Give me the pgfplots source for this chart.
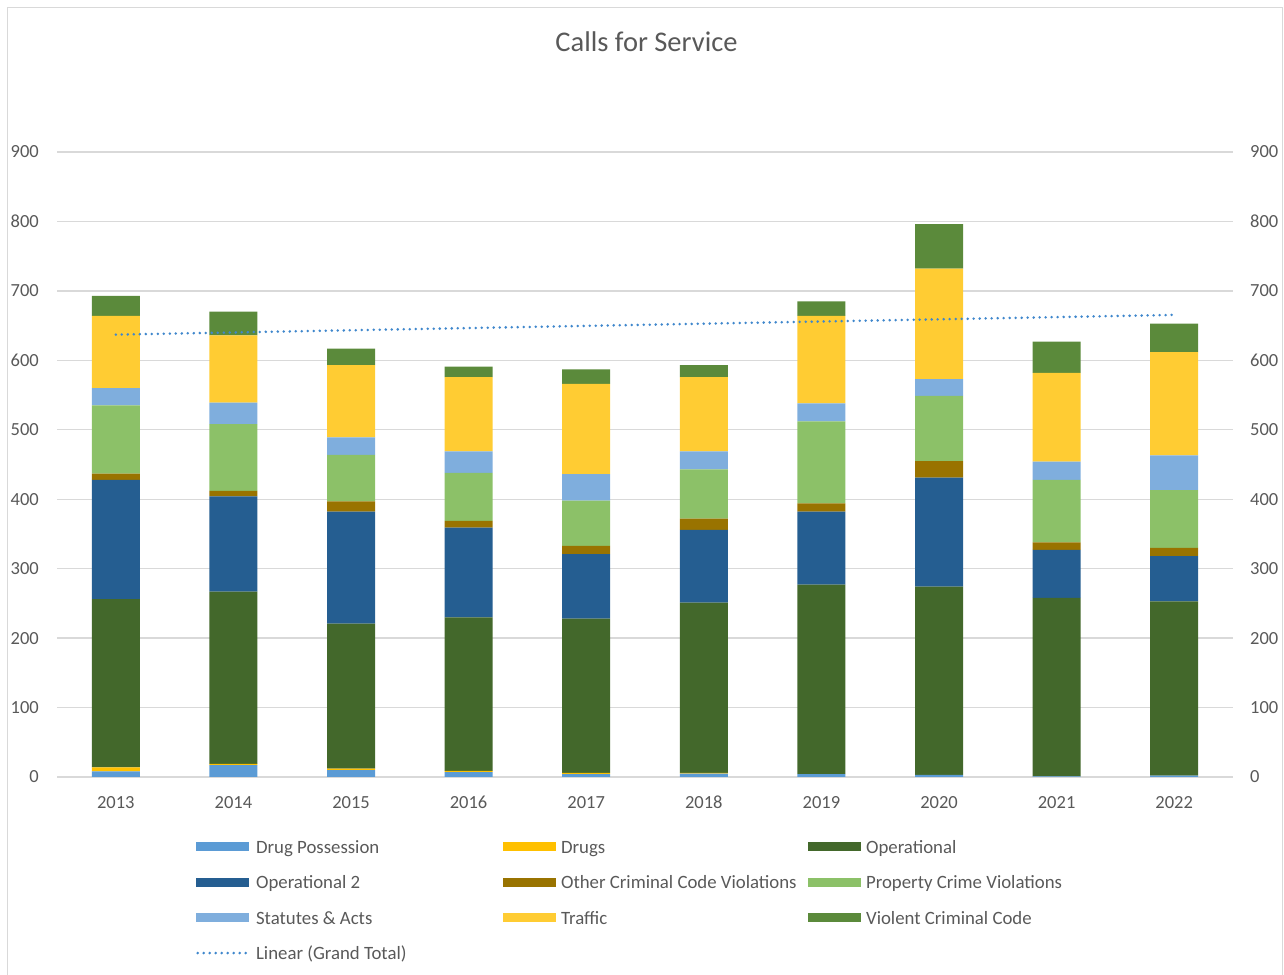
\documentclass[border=0pt]{standalone}
\usepackage{fontspec}
\setmainfont{Carlito}
\usepackage{pgfplots}
\pgfplotsset{compat=1.18}
\usepackage{pgfplotstable}

\definecolor{cdp}{HTML}{5B9BD5}
\definecolor{cdrg}{HTML}{FFC000}
\definecolor{cop}{HTML}{43682B}
\definecolor{cop2}{HTML}{255E91}
\definecolor{coth}{HTML}{997300}
\definecolor{cprop}{HTML}{8CC168}
\definecolor{cstat}{HTML}{7FAEDD}
\definecolor{ctraf}{HTML}{FFCC33}
\definecolor{cvio}{HTML}{5B8A3B}
\definecolor{ctxt}{HTML}{595959}
\definecolor{cgrid}{HTML}{D9D9D9}
\definecolor{ctrend}{HTML}{3F87CC}

\pgfplotstableread{
x DP Dr Op Op2 Oth Prop Stat Tr Vi
0 8 6 242 172 9 98 25 104 29
1 17 2 248 137 8 96 31 97 34
2 10 2 209 161 15 67 25 104 24
3 7 2 221 129 10 69 31 107 15
4 4 2 222 93 12 65 38 130 21
5 5 1 245 105 16 71 26 107 17
6 4 0 273 105 12 118 26 126 21
7 3 0 271 157 24 94 24 159 64
8 1 0 257 69 11 90 26 128 45
9 2 0 251 65 12 83 50 149 41
}\calls

\pgfplotsset{
  base/.style={scale only axis, width=1176bp, height=625bp,
    xmin=-0.5, xmax=9.5, ymin=0, ymax=900,
    at={(57bp,198bp)}, anchor=south west,
    ytick={0,100,...,900},
    axis line style={draw=none},
    major tick length=0pt,
    tick label style={text=ctxt, font=\fontsize{18.5bp}{22bp}\selectfont},
    /pgf/number format/assume math mode=true},
  sw/.style={fill=#1, draw=none,
    legend image code/.code={\fill[#1] (0bp,-2.3bp) rectangle (53bp,6.7bp);}},
}
\newcommand{\legent}[1]{\addlegendentry{\makebox[246.5bp][l]{#1}}}

\begin{document}
\begin{tikzpicture}
\path[use as bounding box] (0,0) rectangle (1284bp,975bp);
\draw[cgrid, line width=1bp] (7.5bp,-5bp) rectangle (1282.5bp,967.5bp);
\node[anchor=base, text=ctxt, font=\fontsize{28.5bp}{32bp}\selectfont] at (646.5bp,923bp) {Calls for Service};

\begin{axis}[base,
  ybar stacked, bar width=48bp,
  xtick={0,...,9},
  xticklabels={2013,2014,2015,2016,2017,2018,2019,2020,2021,2022},
  ymajorgrids, grid style={cgrid, line width=1.3bp},
  yticklabel style={anchor=east, inner sep=0pt, xshift=-18bp},
  xticklabel style={anchor=north, inner sep=0pt, yshift=-19bp},
  legend columns=3,
  legend cell align=left,
  legend style={draw=none, fill=none, at={(0.1182,-0.1014)}, anchor=north west,
    inner sep=0pt, row sep=18.4bp, text=ctxt,
    font=\fontsize{18.8bp}{22bp}\selectfont,
    nodes={inner sep=0pt, text height=13bp, text depth=4bp},
    /tikz/every odd column/.append style={column sep=5.5bp}},
]
\addplot[sw=cdp] table[x=x,y=DP]{\calls}; \legent{Drug Possession}
\addplot[sw=cdrg] table[x=x,y=Dr]{\calls}; \legent{Drugs}
\addplot[sw=cop] table[x=x,y=Op]{\calls}; \legent{Operational}
\addplot[sw=cop2] table[x=x,y=Op2]{\calls}; \legent{Operational 2}
\addplot[sw=coth] table[x=x,y=Oth]{\calls}; \legent{Other Criminal Code Violations}
\addplot[sw=cprop] table[x=x,y=Prop]{\calls}; \legent{Property Crime Violations}
\addplot[sw=cstat] table[x=x,y=Stat]{\calls}; \legent{Statutes \& Acts}
\addplot[sw=ctraf] table[x=x,y=Tr]{\calls}; \legent{Traffic}
\addplot[sw=cvio] table[x=x,y=Vi]{\calls}; \legent{Violent Criminal Code}
\addlegendimage{legend image code/.code={\draw[ctrend, line width=2.8bp, dash pattern=on 0bp off 6bp, line cap=round] (1.5bp,2.2bp) -- (53bp,2.2bp);}}
\legent{Linear (Grand Total)}
\end{axis}

\begin{axis}[base,
  xtick=\empty,
  yticklabel pos=right,
  yticklabel style={anchor=west, inner sep=0pt, xshift=17bp},
]
\addplot[ctrend, line width=2.8bp, dash pattern=on 0bp off 6bp, line cap=round] coordinates {(0,637.0) (9,665.4)};
\end{axis}
\end{tikzpicture}
\end{document}
